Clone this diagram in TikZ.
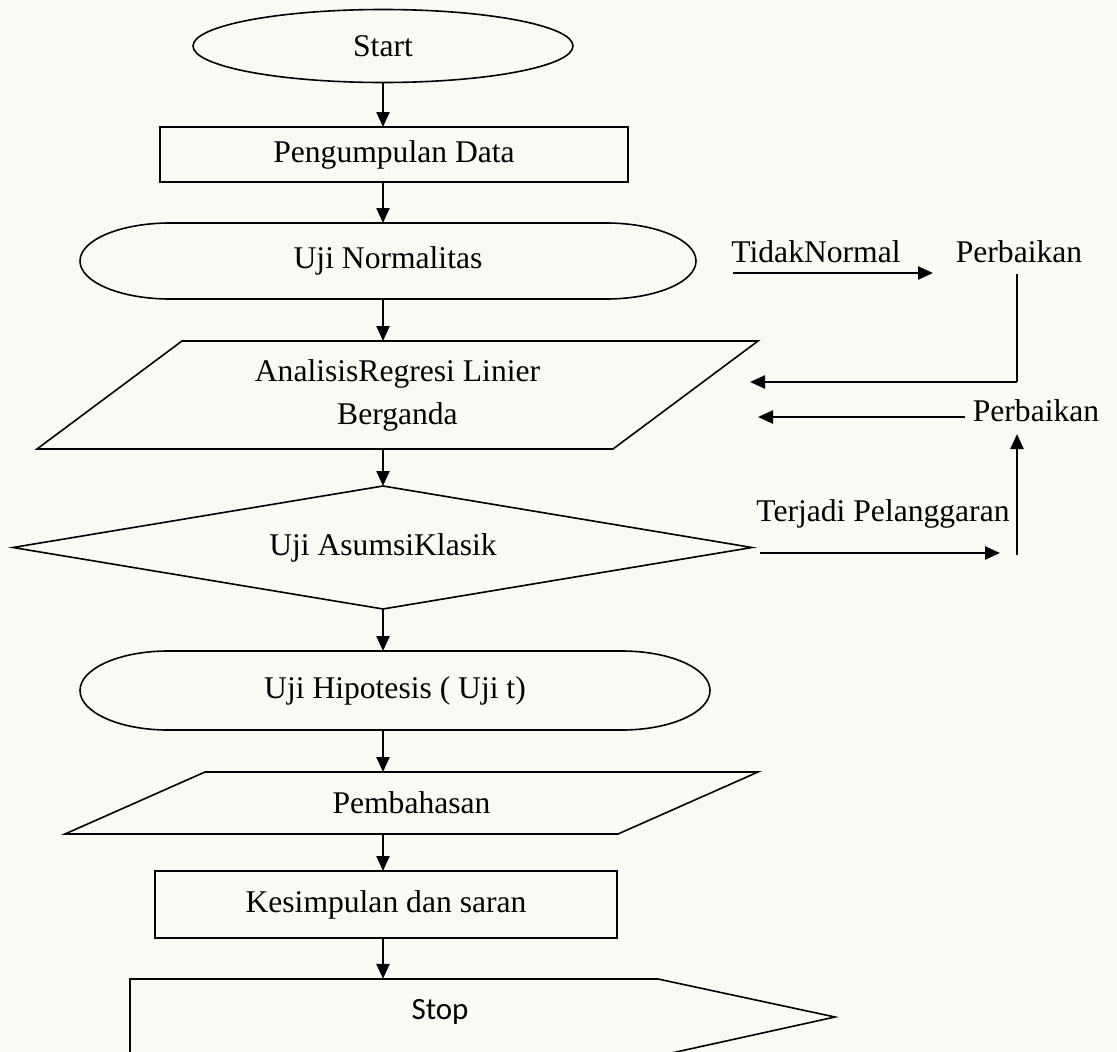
\documentclass[tikz,border=0pt]{standalone}
\usepackage{fontspec}
\setmainfont{Liberation Serif}
\newfontfamily\stopfont{Carlito}
\usetikzlibrary{arrows.meta,shapes.geometric}
\definecolor{bgc}{RGB}{250,250,244}
\begin{document}
\begin{tikzpicture}[x=1pt,y=-1pt,
  shp/.style={draw=black, line width=1.6pt},
  txt/.style={font=\fontsize{31.6}{43}\selectfont, inner sep=0pt, outer sep=0pt},
  box/.style={txt, rectangle, minimum width=#1},
  arr/.style={line width=2.4pt, -{Triangle[length=15pt,width=13pt]}},
  thinln/.style={line width=1.6pt},
]
\fill[bgc] (0,0) rectangle (1117,1052);
\useasboundingbox (0,0) rectangle (1117,1052);
\coordinate (ax) at (383,0);

% main column
\node[shp, txt, ellipse, minimum width=380pt, minimum height=73pt] (start) at (383,46) {Start};
\node[shp, box=468pt, minimum height=55pt] (data) at (394,154.5) {Pengumpulan Data};

\draw[shp] (170,223) -- (606,223) arc[start angle=90, end angle=-90, x radius=90pt, y radius=38pt]
  -- (170,299) arc[start angle=270, end angle=90, x radius=90pt, y radius=38pt] -- cycle;
\node[box=616pt, minimum height=76pt] (normal) at (388,261) {Uji Normalitas};

\draw[shp] (182,341) -- (758,341) -- (613,449) -- (37,449) -- cycle;
\node[box=420pt, minimum height=108pt, align=center] (analisis) at (397.5,395) {AnalisisRegresi Linier\\Berganda};

\draw[shp] (383,486) -- (752,547.5) -- (383,609) -- (13,547.5) -- cycle;
\node[box=500pt, minimum height=123pt] (asumsi) at (383,547.5) {Uji AsumsiKlasik};

\draw[shp] (168,651) -- (622,651) arc[start angle=90, end angle=-90, x radius=88pt, y radius=39.5pt]
  -- (168,730) arc[start angle=270, end angle=90, x radius=88pt, y radius=39.5pt] -- cycle;
\node[box=630pt, minimum height=79pt] (hipotesis) at (395,690.5) {Uji Hipotesis ( Uji t)};

\draw[shp] (205,772) -- (758,772) -- (618,834) -- (65,834) -- cycle;
\node[box=400pt, minimum height=62pt] (pembahasan) at (411.5,803) {Pembahasan};

\node[shp, box=462pt, minimum height=67pt] (kesimpulan) at (386,904.5) {Kesimpulan dan saran};

\draw[shp] (130,1058) -- (130,979) -- (658,979) -- (835,1017) -- (658,1056) -- (130,1056);
\node[inner sep=0pt, minimum height=66pt, font=\stopfont\fontsize{31}{36}\selectfont] (stop) at (440,1012) {Stop};

% main arrows
\draw[arr] (start.south) -- (ax |- data.north);
\draw[arr] (data.south -| ax) -- (ax |- normal.north);
\draw[arr] (normal.south -| ax) -- (ax |- analisis.north);
\draw[arr] (analisis.south -| ax) -- (ax |- asumsi.north);
\draw[arr] (asumsi.south -| ax) -- (ax |- hipotesis.north);
\draw[arr] (hipotesis.south -| ax) -- (ax |- pembahasan.north);
\draw[arr] (pembahasan.south -| ax) -- (ax |- kesimpulan.north);
\draw[arr] (kesimpulan.south -| ax) -- (ax |- stop.north);

% right side
\node[txt] (tidak) at (816,252) {TidakNormal};
\node[txt] (perb1) at (1019,252) {Perbaikan};
\node[txt] (perb2) at (1036,411) {Perbaikan};
\node[txt] (terjadi) at (883,514) {Terjadi Pelanggaran};

\coordinate (tnA) at (733,273);
\coordinate (tnB) at (933,273);
\draw[arr] (tnA) -- (tnB);

\coordinate (p1top) at (1017,274);
\coordinate (p1corner) at (1017,382);
\coordinate (p1end) at (750,382);
\draw[thinln] (p1top) -- (p1corner);
\draw[arr] (p1corner) -- (p1end);

\coordinate (p2start) at (965,417);
\coordinate (p2end) at (758,417);
\draw[arr] (p2start) -- (p2end);

\coordinate (tjA) at (760,553);
\coordinate (tjB) at (1000,553);
\draw[arr] (tjA) -- (tjB);

\coordinate (upA) at (1017,555);
\coordinate (upB) at (1017,434);
\draw[arr] (upA) -- (upB);
\end{tikzpicture}
\end{document}
